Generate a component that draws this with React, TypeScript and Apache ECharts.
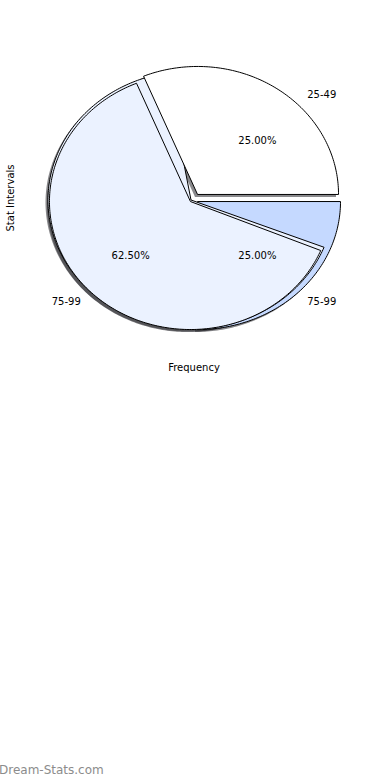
import React, { useEffect, useRef } from "react";
import * as echarts from "echarts";

// ---- data ----
const sliceNames = ["25-49", "75-99", "75-99"];
const slicePercents = [25, 25, 62.5]; // displayed percentages
const sliceStartDeg = [0, -90, 112.5]; // where each wedge begins (ccw from east)
const sliceSpanPct = [31.25, 25, 62.5]; // drawn extent of each wedge (% of the circle)
const xAxisTitle = "Frequency";
const yAxisTitle = "Stat Intervals";
const watermark = "Dream-Stats.com";

// ---- style ----
const sliceColors = ["#ffffff", "#c5d9ff", "#ebf2ff"];
const CX = 194;
const CY = 198;
const RX = 141;
const RY = 128;
const EXPLODE = 5;
const SHADOW_DX = -2.5;
const SHADOW_DY = 2.5;
const FONT = '10px "DejaVu Sans", sans-serif';

type Pt = [number, number];

function wedge(ax: number, ay: number, rx: number, ry: number, a0: number, a1: number): Pt[] {
  const pts: Pt[] = [[ax, ay]];
  const n = Math.max(8, Math.ceil(Math.abs(a1 - a0)));
  for (let k = 0; k <= n; k++) {
    const t = ((a0 + ((a1 - a0) * k) / n) * Math.PI) / 180;
    pts.push([ax + rx * Math.cos(t), ay - ry * Math.sin(t)]);
  }
  return pts;
}

function shift(pts: Pt[], dx: number, dy: number): Pt[] {
  return pts.map(([x, y]) => [x + dx, y + dy] as Pt);
}

function text(str: string, x: number, y: number, align: string, extra: any = {}) {
  return {
    type: "text",
    style: {
      text: str,
      x,
      y,
      font: FONT,
      fill: "#000",
      align,
      verticalAlign: "middle",
      textAlign: align,
      textVerticalAlign: "middle",
      ...extra,
    },
  };
}

function buildChildren() {
  const midDeg = sliceStartDeg.map((s, i) => s + (slicePercents[i] * 3.6) / 2);
  const apex = midDeg.map((m) => {
    const t = (m * Math.PI) / 180;
    return [CX + EXPLODE * Math.cos(t), CY - EXPLODE * Math.sin(t)] as Pt;
  });
  const rxScale = [1, 1.014, 1];
  const shapes = sliceSpanPct.map((span, i) =>
    wedge(apex[i][0], apex[i][1], RX * rxScale[i], RY, sliceStartDeg[i], sliceStartDeg[i] + span * 3.6)
  );
  // backing copy of the large slice (drawn pie underneath)
  const big = 2;
  const backing = wedge(
    CX - 3,
    CY + 2,
    RX + 2,
    RY + 1,
    sliceStartDeg[big] - 12.5,
    sliceStartDeg[big] + sliceSpanPct[big] * 3.6 + 1
  );

  const order: { pts: Pt[]; color: string }[] = [
    { pts: shapes[1], color: sliceColors[1] },
    { pts: backing, color: sliceColors[2] },
    { pts: shapes[2], color: sliceColors[2] },
    { pts: shapes[0], color: sliceColors[0] },
  ];

  const children: any[] = [];
  order.forEach((o) => {
    children.push({
      type: "polygon",
      shape: { points: shift(o.pts, SHADOW_DX, SHADOW_DY) },
      style: { fill: "rgba(40,40,45,0.55)", stroke: "none" },
    });
  });
  order.forEach((o) => {
    children.push({
      type: "polygon",
      shape: { points: o.pts },
      style: { fill: o.color, stroke: "#000", lineWidth: 1, lineJoin: "miter" },
    });
  });

  sliceNames.forEach((name, i) => {
    const t = (midDeg[i] * Math.PI) / 180;
    const c = Math.cos(t);
    const s = Math.sin(t);
    children.push(
      text(slicePercents[i].toFixed(2) + "%", apex[i][0] + 0.6 * RX * c, apex[i][1] - 0.6 * RY * s, "center")
    );
    children.push(
      text(name, apex[i][0] + 1.1 * RX * c, apex[i][1] - 1.1 * RY * s, c >= 0 ? "left" : "right")
    );
  });

  children.push(text(xAxisTitle, 194, 367, "center"));
  children.push({
    type: "text",
    x: 10,
    y: 198,
    rotation: Math.PI / 2,
    style: {
      text: yAxisTitle,
      x: 0,
      y: 0,
      font: FONT,
      fill: "#000",
      align: "center",
      verticalAlign: "middle",
      textAlign: "center",
      textVerticalAlign: "middle",
    },
  });
  children.push(
    text(watermark, -1, 770, "left", { font: '12px "DejaVu Sans", sans-serif', fill: "#8c8c8c" })
  );
  return children;
}

export default function App() {
  const ref = useRef<HTMLDivElement>(null);
  useEffect(() => {
    if (!ref.current) return;
    const chart = echarts.init(ref.current, undefined, { renderer: "svg" });
    chart.setOption({
      animation: false,
      backgroundColor: "#ffffff",
      series: [
        {
          type: "custom",
          coordinateSystem: "none",
          silent: true,
          data: [0],
          renderItem: () => ({ type: "group", children: buildChildren() }),
        },
      ],
    });
    return () => chart.dispose();
  }, []);
  return (
    <div
      ref={ref}
      style={{ position: "absolute", left: 0, top: 0, width: 390, height: 780 }}
    />
  );
}
